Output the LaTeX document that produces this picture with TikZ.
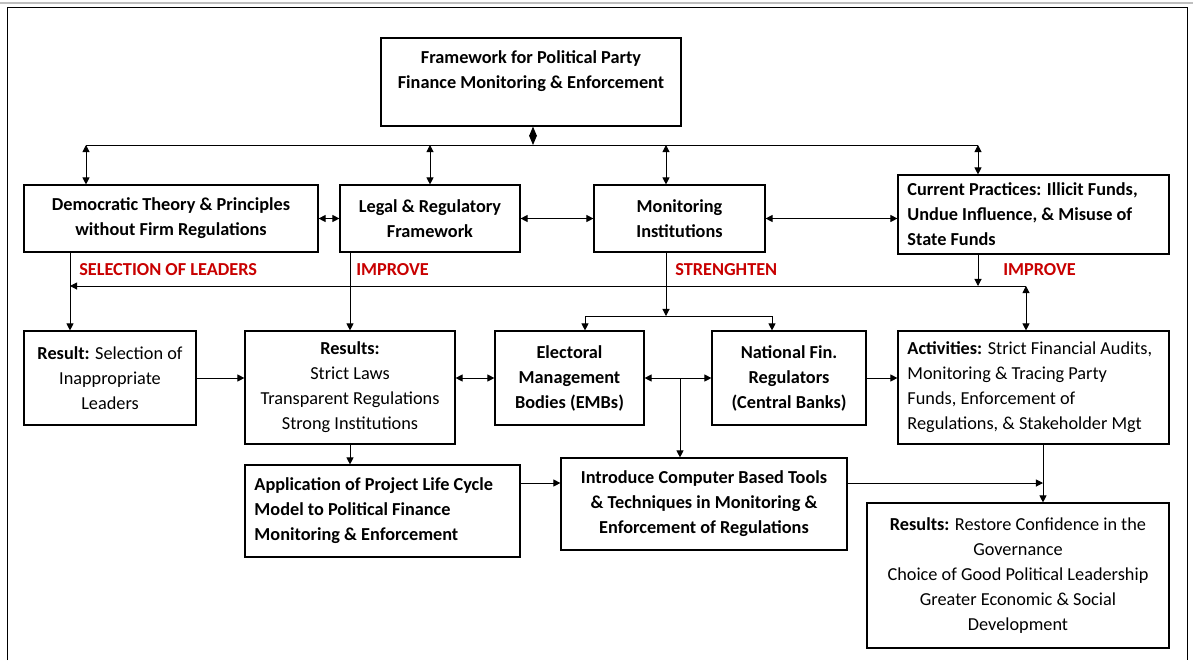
\documentclass[tikz,border=0pt]{standalone}
\usepackage{fontspec}
\setmainfont{Carlito}
\usepackage{tikz}
\usetikzlibrary{arrows.meta, positioning, calc}
\definecolor{wordred}{RGB}{200,0,0}
\newcommand{\diagfont}{\fontsize{13}{17.8}\selectfont}

\begin{document}
\begin{tikzpicture}[
  x=0.025cm, y=-0.025cm,
  box/.style={rectangle, draw, line width=0.8pt, align=center, inner sep=2pt, font=\diagfont},
  bold/.style={font=\diagfont\bfseries},
  lefttext/.style={align=flush left, inner xsep=0.2375cm, text width=6.3cm},
  arrow/.style={-{Triangle[length=5pt,width=5pt]}, line width=0.7pt},
  both/.style={{Triangle[length=5pt,width=5pt]}-{Triangle[length=5pt,width=5pt]}, line width=0.7pt},
  meet/.style={{Triangle[length=6.8pt,width=5.5pt]}-{Triangle[length=6.8pt,width=5.5pt]}, line width=0.7pt},
  tag/.style={text=wordred, font=\diagfont\bfseries, anchor=west, inner sep=0pt}
]
\useasboundingbox (0,0) rectangle (1193,660);

% Page frame
\draw[gray!50, line width=1pt] (0,3) -- (1193,3);
\draw[line width=0.7pt] (7,660) -- (7,7) -- (1187,7) -- (1187,660);

% Nodes
\node (top) [box, bold, minimum width=7.5cm, minimum height=2.2cm] at (531,82)
  {Framework for Political Party\\Finance Monitoring \& Enforcement\\[-5.6pt] \strut};

\node (demo) [box, bold, minimum width=7.35cm, minimum height=1.675cm] at (171,218.5)
  {Democratic Theory \& Principles\\without Firm Regulations};
\node (legal) [box, bold, minimum width=4.5cm, minimum height=1.675cm] at (430,218.5)
  {Legal \& Regulatory\\Framework};
\node (monit) [box, bold, minimum width=4.275cm, minimum height=1.675cm] at (679.5,218.5)
  {Monitoring\\Institutions};
\node (practice) [box, bold, lefttext, minimum height=1.975cm] at (1033.5,214.5)
  {Current Practices: Illicit Funds,\\Undue Influence, \& Misuse of\\State Funds};

\node (result) [box, minimum width=4.3cm, minimum height=2.35cm] at (110,378)
  {\textbf{Result:} Selection of\\Inappropriate\\Leaders};
\node (results) [box, minimum width=5.25cm, minimum height=2.825cm] at (350,387.5)
  {\textbf{Results:}\\Strict Laws\\Transparent Regulations\\Strong Institutions};
\node (emb) [box, bold, minimum width=3.725cm, minimum height=2.35cm] at (569.5,378)
  {Electoral\\Management\\Bodies (EMBs)};
\node (natfin) [box, bold, minimum width=3.85cm, minimum height=2.35cm] at (789,378)
  {National Fin.\\Regulators\\(Central Banks)};
\node (activ) [box, lefttext, minimum height=2.825cm] at (1033.5,387.5)
  {\textbf{Activities:} Strict Financial Audits,\\Monitoring \& Tracing Party\\Funds, Enforcement of\\Regulations, \& Stakeholder Mgt};

\node (apply) [box, bold, lefttext, text width=6.4cm, minimum height=2.3cm] at (382.5,511)
  {Application of Project Life Cycle\\Model to Political Finance\\Monitoring \& Enforcement};
\node (tools) [box, bold, minimum width=7.15cm, minimum height=2.3cm] at (704,504)
  {Introduce Computer Based Tools\\\& Techniques in Monitoring \&\\Enforcement of Regulations};
\node (outcome) [box, minimum width=7.55cm, minimum height=3.625cm] at (1018,575.5)
  {\textbf{Results:} Restore Confidence in the\\Governance\\Choice of Good Political Leadership\\Greater Economic \& Social\\Development};

% Labels
\node (lblsel) [tag] at (79,270) {SELECTION OF LEADERS};
\node (lblimp) [tag] at (356,270) {IMPROVE};
\node (lblstr) [tag] at (675,270) {STRENGHTEN};
\node (lblimp2) [tag] at (1003,270) {IMPROVE};

% Junction points
\coordinate (hub) at (533,145);
\coordinate (busL) at (86,145);
\coordinate (busR) at (978,145);
\coordinate (mdrop) at (666,145);
\coordinate (midL) at (70,286);
\coordinate (midR) at (1026,286);
\coordinate (split) at (666,316);
\coordinate (splitL) at (585,316);
\coordinate (splitR) at (772,316);
\coordinate (fork) at (680,378);
\coordinate (join) at (1043,483);

% Arrows
\draw [meet] (top.south -| hub) -- (hub);
\draw [line width=0.7pt] (busL) -- (busR);
\draw [both] (busL) -- (busL |- demo.north);
\draw [both] (legal.north |- busL) -- (legal.north);
\draw [both] (mdrop) -- (mdrop |- monit.north);
\draw [both] (busR) -- (busR |- practice.north);

\draw [both] (demo) -- (legal);
\draw [both] (legal) -- (monit);
\draw [both] (monit.east) -- (monit.east -| practice.west);

\draw [arrow] (demo.south -| midL) -- (midL |- result.north);
\draw [arrow] (midR) -- (midL);
\draw [arrow] (practice.south -| busR) -- (busR |- midR);
\draw [both] (midR) -- (midR |- activ.north);
\draw [arrow] (results.north |- legal.south) -- (results.north);
\draw [arrow] (monit.south -| split) -- (split);
\draw [line width=0.7pt] (splitL) -- (splitR);
\draw [arrow] (splitL) -- (splitL |- emb.north);
\draw [arrow] (splitR) -- (splitR |- natfin.north);

\draw [arrow] (result.east) -- (result.east -| results.west);
\draw [both] (results.east |- emb) -- (emb.west);
\draw [both] (emb) -- (natfin);
\draw [arrow] (natfin) -- (natfin.east -| activ.west);
\draw [arrow] (fork) -- (fork |- tools.north);

\draw [arrow] (results.south) -- (results.south |- apply.north);
\draw [arrow] (apply.east |- join) -- (tools.west |- join);
\draw [arrow] (tools.east |- join) -- (join);
\draw [arrow] (activ.south -| join) -- (join |- outcome.north);

\end{tikzpicture}
\end{document}
